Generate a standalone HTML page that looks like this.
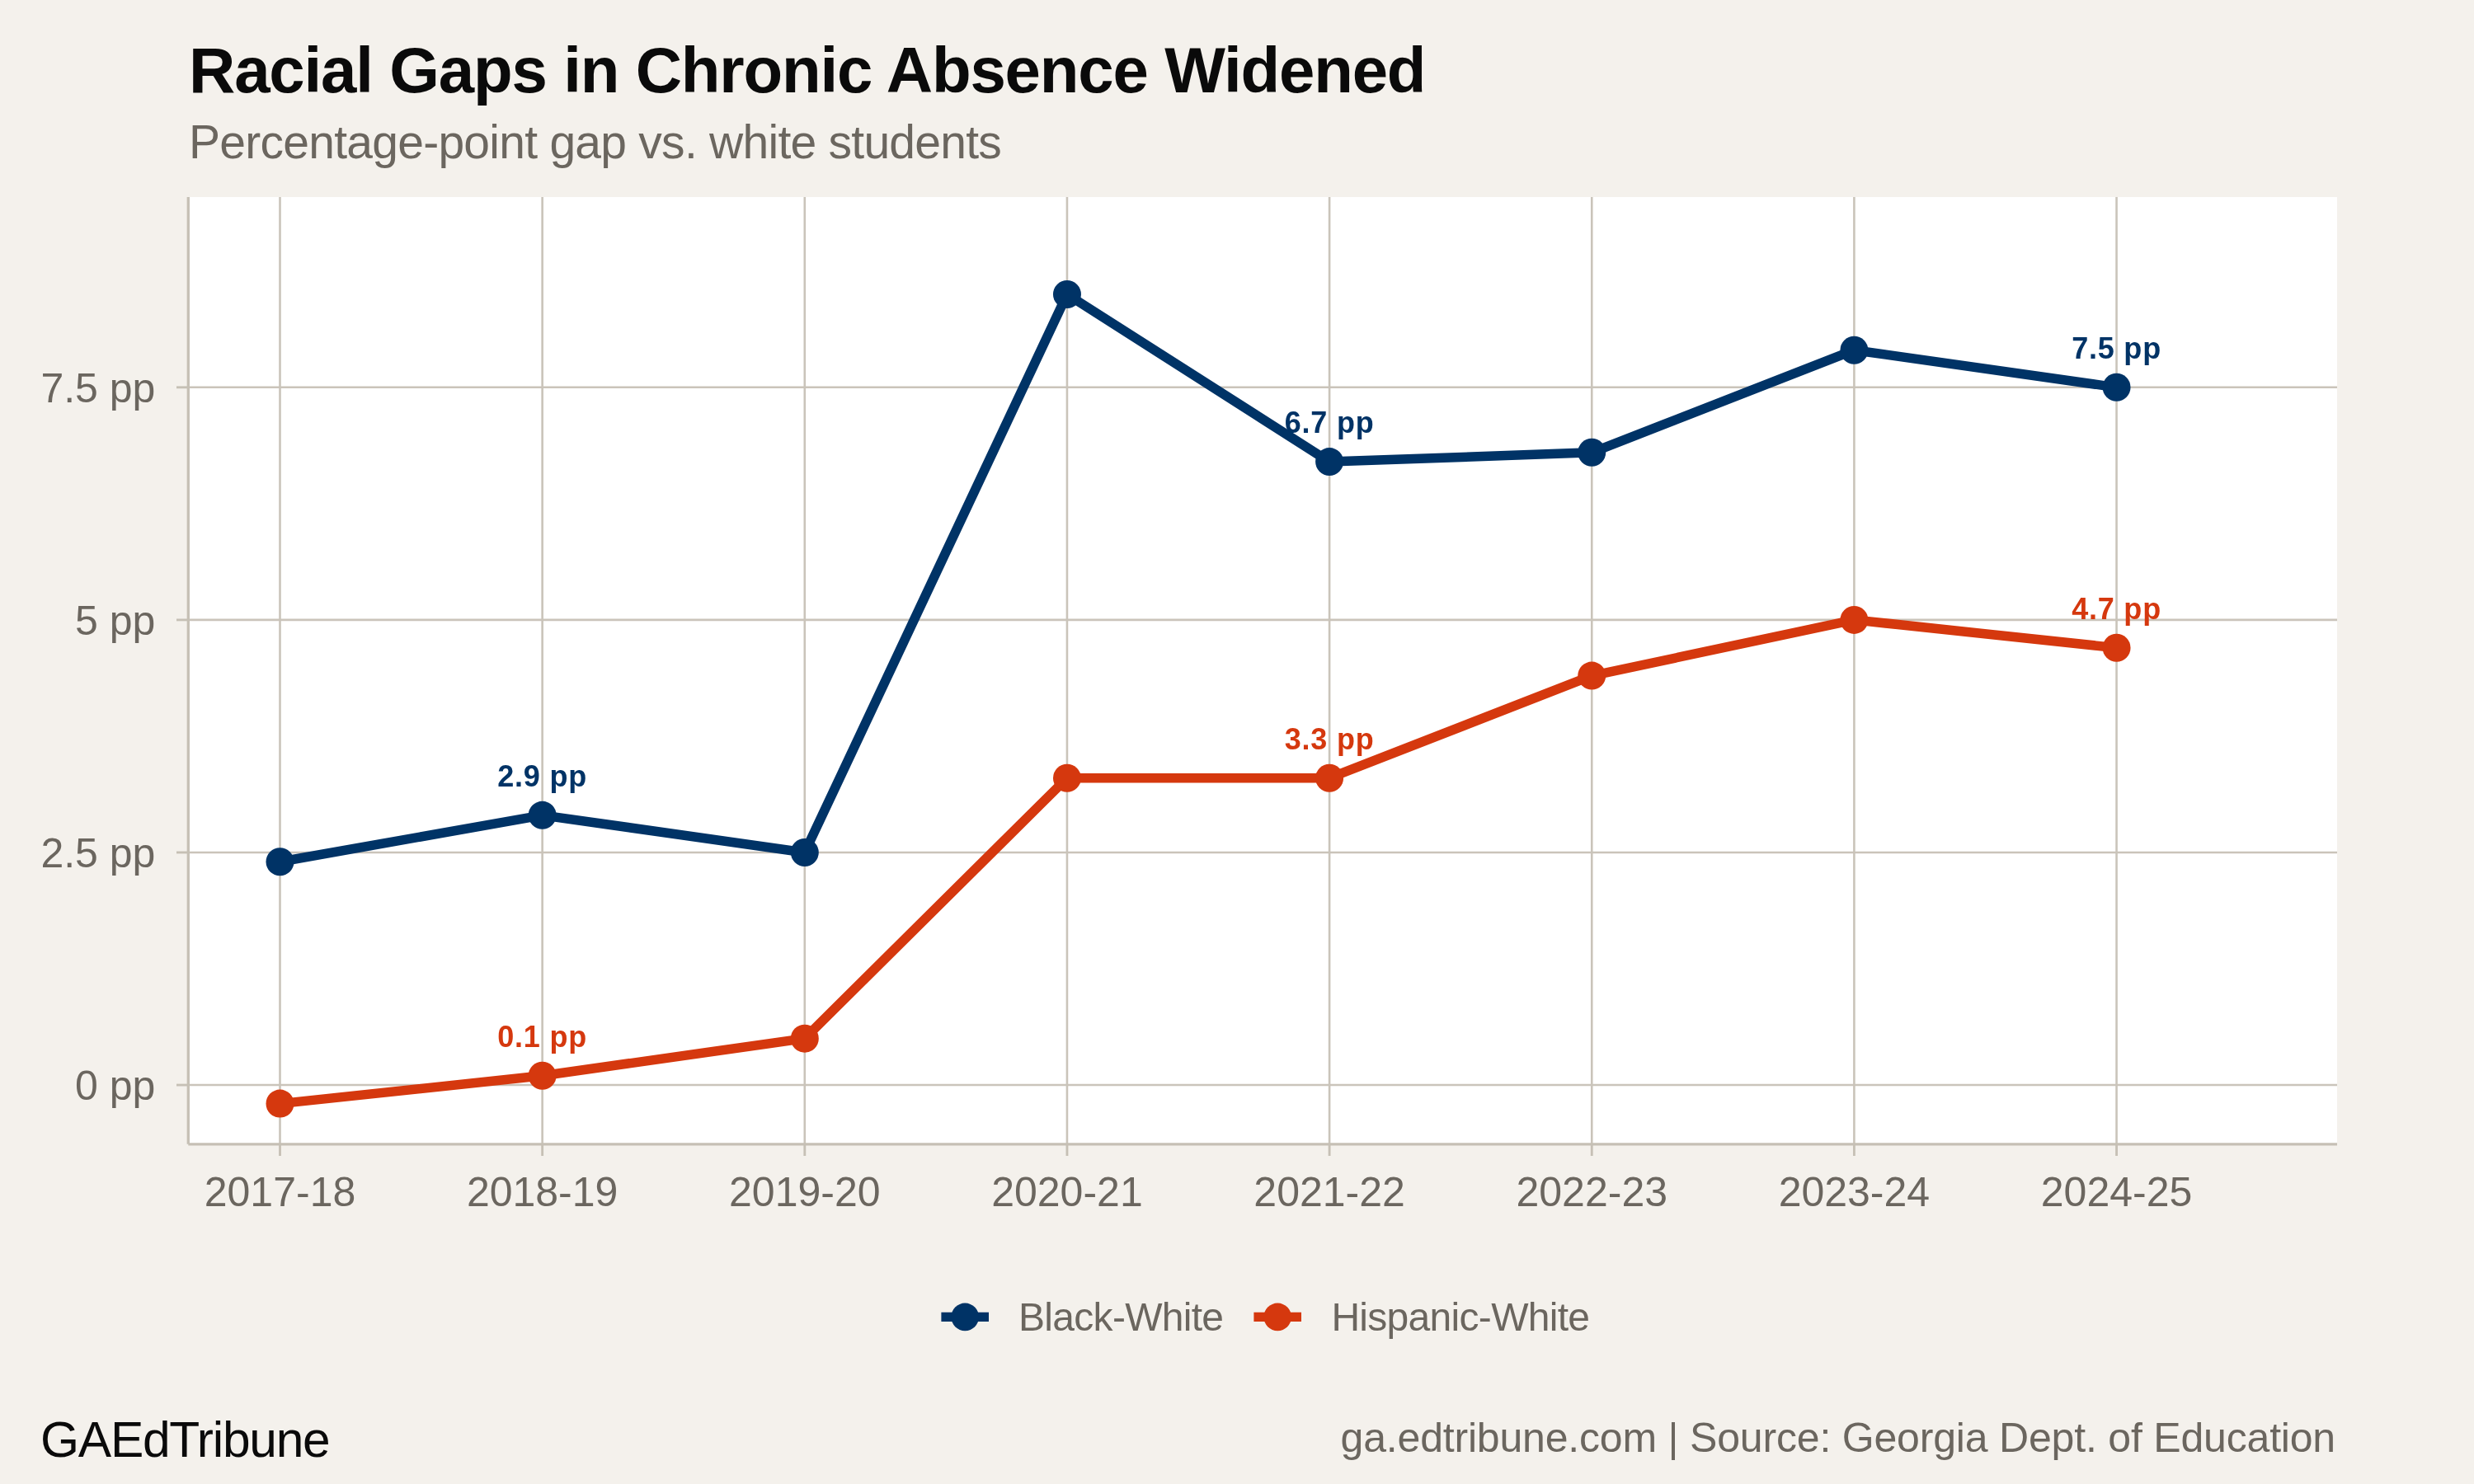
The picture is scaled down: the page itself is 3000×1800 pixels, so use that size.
<!DOCTYPE html>
<html><head><meta charset="utf-8"><style>
html,body{margin:0;padding:0;background:#F4F1EC;}
svg{display:block;}
text{font-family:"Liberation Sans",sans-serif;}
svg{will-change:transform;}
</style></head><body>
<svg width="3000" height="1800" viewBox="0 0 3000 1800">
<rect width="3000" height="1800" fill="#F4F1EC"/>
<rect x="228.3" y="239.0" width="2605.7" height="1148.8" fill="#FFFFFF"/>
<line x1="228.3" x2="2834.0" y1="1316.05" y2="1316.05" stroke="#CAC4BA" stroke-width="2.6"/>
<line x1="228.3" x2="2834.0" y1="1033.97" y2="1033.97" stroke="#CAC4BA" stroke-width="2.6"/>
<line x1="228.3" x2="2834.0" y1="751.90" y2="751.90" stroke="#CAC4BA" stroke-width="2.6"/>
<line x1="228.3" x2="2834.0" y1="469.82" y2="469.82" stroke="#CAC4BA" stroke-width="2.6"/>
<line x1="339.50" x2="339.50" y1="239.0" y2="1387.8" stroke="#CAC4BA" stroke-width="2.6"/>
<line x1="657.65" x2="657.65" y1="239.0" y2="1387.8" stroke="#CAC4BA" stroke-width="2.6"/>
<line x1="975.80" x2="975.80" y1="239.0" y2="1387.8" stroke="#CAC4BA" stroke-width="2.6"/>
<line x1="1293.95" x2="1293.95" y1="239.0" y2="1387.8" stroke="#CAC4BA" stroke-width="2.6"/>
<line x1="1612.10" x2="1612.10" y1="239.0" y2="1387.8" stroke="#CAC4BA" stroke-width="2.6"/>
<line x1="1930.25" x2="1930.25" y1="239.0" y2="1387.8" stroke="#CAC4BA" stroke-width="2.6"/>
<line x1="2248.40" x2="2248.40" y1="239.0" y2="1387.8" stroke="#CAC4BA" stroke-width="2.6"/>
<line x1="2566.55" x2="2566.55" y1="239.0" y2="1387.8" stroke="#CAC4BA" stroke-width="2.6"/>
<line x1="228.3" x2="228.3" y1="239.0" y2="1387.8" stroke="#C6C0B5" stroke-width="3.3"/>
<line x1="228.3" x2="2834.0" y1="1387.8" y2="1387.8" stroke="#C6C0B5" stroke-width="3.3"/>
<line x1="214" x2="228.3" y1="1316.05" y2="1316.05" stroke="#C6C0B5" stroke-width="2.85"/>
<line x1="214" x2="228.3" y1="1033.97" y2="1033.97" stroke="#C6C0B5" stroke-width="2.85"/>
<line x1="214" x2="228.3" y1="751.90" y2="751.90" stroke="#C6C0B5" stroke-width="2.85"/>
<line x1="214" x2="228.3" y1="469.82" y2="469.82" stroke="#C6C0B5" stroke-width="2.85"/>
<line x1="339.50" x2="339.50" y1="1387.8" y2="1402" stroke="#C6C0B5" stroke-width="2.85"/>
<line x1="657.65" x2="657.65" y1="1387.8" y2="1402" stroke="#C6C0B5" stroke-width="2.85"/>
<line x1="975.80" x2="975.80" y1="1387.8" y2="1402" stroke="#C6C0B5" stroke-width="2.85"/>
<line x1="1293.95" x2="1293.95" y1="1387.8" y2="1402" stroke="#C6C0B5" stroke-width="2.85"/>
<line x1="1612.10" x2="1612.10" y1="1387.8" y2="1402" stroke="#C6C0B5" stroke-width="2.85"/>
<line x1="1930.25" x2="1930.25" y1="1387.8" y2="1402" stroke="#C6C0B5" stroke-width="2.85"/>
<line x1="2248.40" x2="2248.40" y1="1387.8" y2="1402" stroke="#C6C0B5" stroke-width="2.85"/>
<line x1="2566.55" x2="2566.55" y1="1387.8" y2="1402" stroke="#C6C0B5" stroke-width="2.85"/>
<text x="188.4" y="1333.75" text-anchor="end" font-size="50" fill="#6B665F">0 pp</text>
<text x="188.4" y="1051.67" text-anchor="end" font-size="50" fill="#6B665F">2.5 pp</text>
<text x="188.4" y="769.60" text-anchor="end" font-size="50" fill="#6B665F">5 pp</text>
<text x="188.4" y="487.52" text-anchor="end" font-size="50" fill="#6B665F">7.5 pp</text>
<text x="339.50" y="1463" text-anchor="middle" font-size="50" fill="#6B665F">2017-18</text>
<text x="657.65" y="1463" text-anchor="middle" font-size="50" fill="#6B665F">2018-19</text>
<text x="975.80" y="1463" text-anchor="middle" font-size="50" fill="#6B665F">2019-20</text>
<text x="1293.95" y="1463" text-anchor="middle" font-size="50" fill="#6B665F">2020-21</text>
<text x="1612.10" y="1463" text-anchor="middle" font-size="50" fill="#6B665F">2021-22</text>
<text x="1930.25" y="1463" text-anchor="middle" font-size="50" fill="#6B665F">2022-23</text>
<text x="2248.40" y="1463" text-anchor="middle" font-size="50" fill="#6B665F">2023-24</text>
<text x="2566.55" y="1463" text-anchor="middle" font-size="50" fill="#6B665F">2024-25</text>
<polyline points="339.50,1045.26 657.65,988.84 975.80,1033.97 1293.95,357.00 1612.10,560.09 1930.25,548.81 2248.40,424.69 2566.55,469.82" fill="none" stroke="#003366" stroke-width="11.5" stroke-linejoin="round" stroke-linecap="butt"/><circle cx="339.50" cy="1045.26" r="17" fill="#003366"/><circle cx="657.65" cy="988.84" r="17" fill="#003366"/><circle cx="975.80" cy="1033.97" r="17" fill="#003366"/><circle cx="1293.95" cy="357.00" r="17" fill="#003366"/><circle cx="1612.10" cy="560.09" r="17" fill="#003366"/><circle cx="1930.25" cy="548.81" r="17" fill="#003366"/><circle cx="2248.40" cy="424.69" r="17" fill="#003366"/><circle cx="2566.55" cy="469.82" r="17" fill="#003366"/>
<polyline points="339.50,1338.62 657.65,1304.77 975.80,1259.63 1293.95,943.71 1612.10,943.71 1930.25,819.60 2248.40,751.90 2566.55,785.75" fill="none" stroke="#D5380E" stroke-width="11.5" stroke-linejoin="round" stroke-linecap="butt"/><circle cx="339.50" cy="1338.62" r="17" fill="#D5380E"/><circle cx="657.65" cy="1304.77" r="17" fill="#D5380E"/><circle cx="975.80" cy="1259.63" r="17" fill="#D5380E"/><circle cx="1293.95" cy="943.71" r="17" fill="#D5380E"/><circle cx="1612.10" cy="943.71" r="17" fill="#D5380E"/><circle cx="1930.25" cy="819.60" r="17" fill="#D5380E"/><circle cx="2248.40" cy="751.90" r="17" fill="#D5380E"/><circle cx="2566.55" cy="785.75" r="17" fill="#D5380E"/>
<text x="657.65" y="954.14" text-anchor="middle" font-size="36" font-weight="700" fill="#003366" letter-spacing="0.8">2.9 pp</text>
<text x="657.65" y="1270.07" text-anchor="middle" font-size="36" font-weight="700" fill="#D5380E" letter-spacing="0.8">0.1 pp</text>
<text x="1612.10" y="525.39" text-anchor="middle" font-size="36" font-weight="700" fill="#003366" letter-spacing="0.8">6.7 pp</text>
<text x="1612.10" y="909.01" text-anchor="middle" font-size="36" font-weight="700" fill="#D5380E" letter-spacing="0.8">3.3 pp</text>
<text x="2566.55" y="435.12" text-anchor="middle" font-size="36" font-weight="700" fill="#003366" letter-spacing="0.8">7.5 pp</text>
<text x="2566.55" y="751.05" text-anchor="middle" font-size="36" font-weight="700" fill="#D5380E" letter-spacing="0.8">4.7 pp</text>
<line x1="1141.4" x2="1199.0" y1="1597.4" y2="1597.4" stroke="#003366" stroke-width="11.3"/>
<circle cx="1170.2" cy="1597.4" r="16.8" fill="#003366"/>
<text x="1235" y="1614.2" font-size="48" fill="#6B665F" letter-spacing="-0.7">Black-White</text>
<line x1="1520.4" x2="1578.0" y1="1597.4" y2="1597.4" stroke="#D5380E" stroke-width="11.3"/>
<circle cx="1549.2" cy="1597.4" r="16.8" fill="#D5380E"/>
<text x="1614.4" y="1614.2" font-size="48" fill="#6B665F" letter-spacing="-0.7">Hispanic-White</text>
<text x="229" y="112.06" font-size="78" font-weight="700" fill="#0A0A0A" letter-spacing="-1.17">Racial Gaps in Chronic Absence Widened</text>
<text x="229" y="191.9" font-size="57" fill="#6B665F" letter-spacing="-0.74">Percentage-point gap vs. white students</text>
<text x="49" y="1766.6" font-size="60.5" fill="#0A0A0A" letter-spacing="-1.26">GAEdTribune</text>
<text x="2832" y="1761.1" text-anchor="end" font-size="50" fill="#6B665F" letter-spacing="-0.19">ga.edtribune.com | Source: Georgia Dept. of Education</text>
</svg></body></html>
